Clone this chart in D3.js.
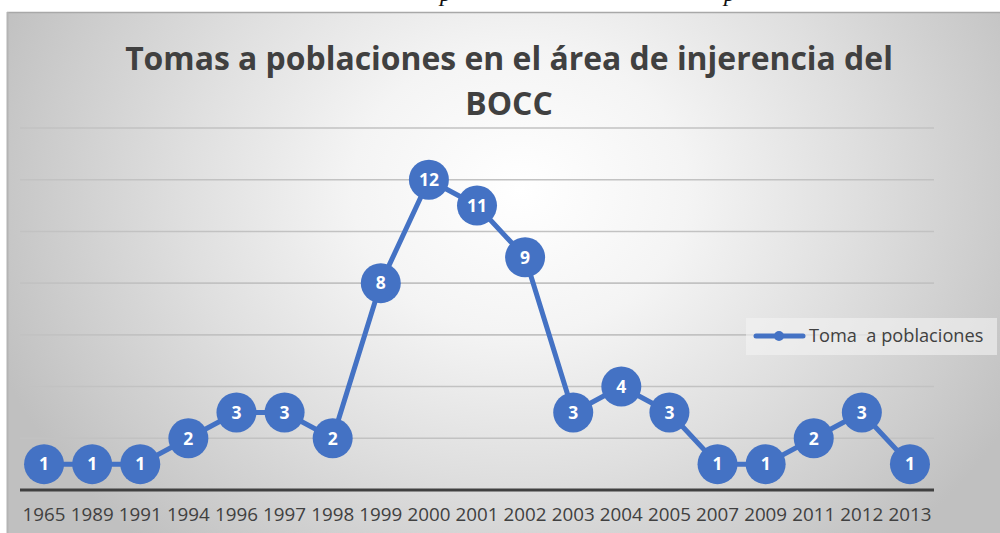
<!DOCTYPE html>
<html><head><meta charset="utf-8">
<script src="https://cdn.jsdelivr.net/npm/d3@7"></script>
<style>html,body{margin:0;padding:0;background:#fff;overflow:hidden}</style>
</head><body>
<svg id="c" width="1000" height="533"></svg>
<script>
const titleLines = ["Tomas a poblaciones en el área de injerencia del", "BOCC"];
const categories = ["1965","1989","1991","1994","1996","1997","1998","1999","2000","2001","2002","2003","2004","2005","2007","2009","2011","2012","2013"];
const values = [1,1,1,2,3,3,2,8,12,11,9,3,4,3,1,1,2,3,1];
const seriesName = "Toma  a poblaciones";
const yTicks = [0,2,4,6,8,10,12,14];

const svg = d3.select("#c");
const defs = svg.append("defs");
const rg = defs.append("radialGradient").attr("id","bg").attr("gradientUnits","userSpaceOnUse")
  .attr("cx",520).attr("cy",190).attr("r",560)
  .attr("gradientTransform","translate(520,190) scale(1,0.85) translate(-520,-190)");
[[0,"#ffffff"],[0.3,"#f4f4f4"],[0.6,"#dfdfdf"],[0.85,"#cccccc"],[1,"#c0c0c0"]].forEach(s=>rg.append("stop").attr("offset",s[0]).attr("stop-color",s[1]));

// stray text from the document above the chart (only descenders visible)
svg.append("text").attr("x",440).attr("y",1).attr("font-family","Liberation Serif").attr("font-style","italic").attr("font-size",24).attr("fill","#111").text("p");
svg.append("text").attr("x",724).attr("y",1).attr("font-family","Liberation Serif").attr("font-style","italic").attr("font-size",24).attr("fill","#111").text("p");

svg.append("rect").attr("x",7).attr("y",12).attr("width",993).attr("height",521).attr("fill","url(#bg)");
svg.append("line").attr("x1",7).attr("x2",1000).attr("y1",12.5).attr("y2",12.5).attr("stroke","#a8a8a8").attr("stroke-width",1.5);
svg.append("line").attr("x1",7.5).attr("x2",7.5).attr("y1",12).attr("y2",533).attr("stroke","#b4b4b4").attr("stroke-width",2);

const x = d3.scaleBand().domain(categories).range([20,934]);
const y = d3.scaleLinear().domain([0,14]).range([490,128]);

// gridlines
svg.append("g").selectAll("line").data(yTicks.filter(d=>d>0)).join("line")
  .attr("x1",20).attr("x2",934).attr("y1",d=>y(d)).attr("y2",d=>y(d))
  .attr("stroke","#c2c2c2").attr("stroke-width",1.6);

// title
const tg = svg.append("g");
titleLines.forEach((t,i)=>{
  tg.append("text").attr("x",509).attr("y",70+i*45).attr("text-anchor","middle")
    .attr("font-family","Open Sans").attr("font-weight",700).attr("font-size",32)
    .attr("fill","#404040").text(t);
});
const t0 = tg.select("text").node();
const w0 = t0.getComputedTextLength();
tg.selectAll("text").attr("font-size",32*768/w0);

// axis
const xAxis = d3.axisBottom(x).tickSize(0).tickPadding(0);
const ax = svg.append("g").attr("transform","translate(0,490)").call(xAxis);
ax.select(".domain").remove();
svg.append("line").attr("x1",20).attr("x2",934).attr("y1",490).attr("y2",490).attr("stroke","#404040").attr("stroke-width",3);
ax.selectAll("text").attr("font-family","Open Sans").attr("font-size",18.8).attr("fill","#404040").attr("dy",null).attr("y",31);

// legend
const lg = svg.append("g");
lg.append("rect").attr("x",746).attr("y",318).attr("width",251).attr("height",37).attr("fill","#f4f4f4").attr("opacity",0.6);
lg.append("line").attr("x1",756).attr("x2",803).attr("y1",336).attr("y2",336).attr("stroke","#4472C4").attr("stroke-width",5).attr("stroke-linecap","round");
lg.append("circle").attr("cx",779).attr("cy",336).attr("r",5).attr("fill","#4472C4");
lg.append("text").attr("x",809).attr("y",342).attr("font-family","Open Sans").attr("font-size",18.2).attr("fill","#404040").attr("xml:space","preserve").style("white-space","pre").text(seriesName);

// line + markers
const cx = d=>x(d.c)+x.bandwidth()/2;
const data = categories.map((c,i)=>({c, v: values[i]}));
svg.append("path").datum(data)
  .attr("d", d3.line().x(cx).y(d=>y(d.v)))
  .attr("fill","none").attr("stroke","#4472C4").attr("stroke-width",5).attr("stroke-linejoin","round");
const pts = svg.append("g").selectAll("g").data(data).join("g").attr("transform",d=>`translate(${cx(d)},${y(d.v)})`);
pts.append("circle").attr("r",20).attr("fill","#4472C4");
pts.append("text").attr("text-anchor","middle").attr("dy","0.36em")
  .attr("font-family","Open Sans").attr("font-weight",700).attr("font-size",17.5).attr("fill","#ffffff").text(d=>d.v);
</script>
</body></html>
